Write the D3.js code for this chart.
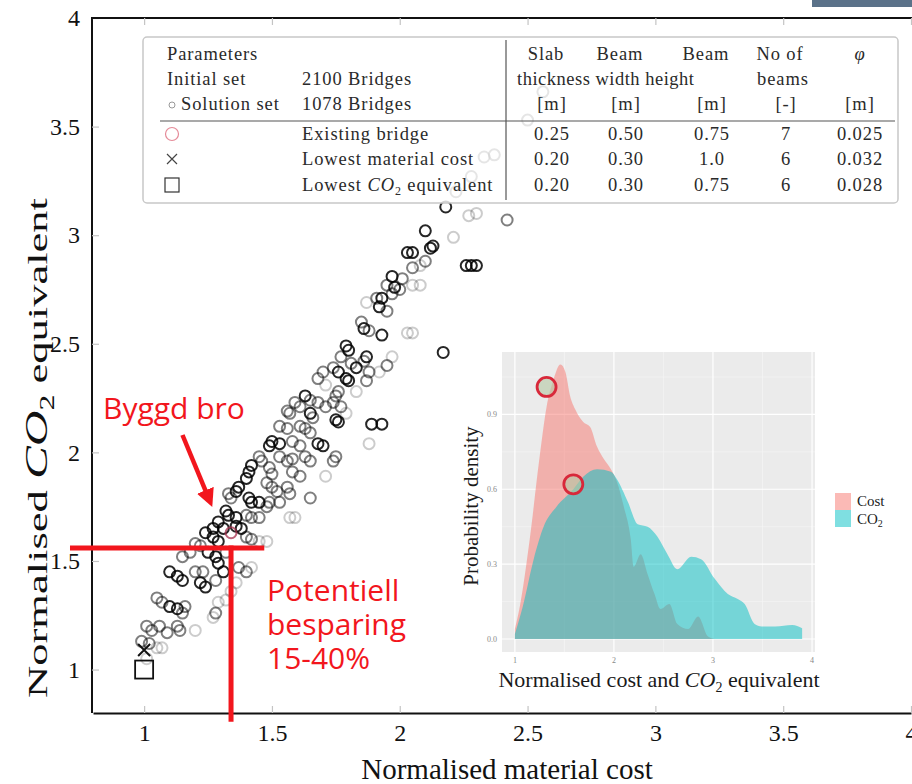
<!DOCTYPE html>
<html>
<head>
<meta charset="utf-8">
<script src="https://cdn.jsdelivr.net/npm/d3@7"></script>
<style>
body { margin: 0; background: #fff; }
text { font-family: "Liberation Serif", "DejaVu Serif", serif; }
.note { font-family: "Open Sans", "Noto Sans", sans-serif; fill: #f2161d; }
</style>
</head>
<body>
<div id="chart"></div>
<script>
// solution set (normalised material cost, normalised CO2), shade = darkness level of the marker
var solutionCost = [
    2.18,2.10,2.27,2.30,2.42,2.21,2.13,2.12,2.03,2.05,
    2.10,2.05,2.08,2.26,2.28,2.30,1.97,2.01,1.95,1.98,
    2.00,2.05,2.08,1.87,1.91,1.93,1.97,1.92,1.95,1.85,
    1.86,1.88,1.93,2.03,2.05,1.79,1.80,1.77,1.87,1.86,
    1.81,1.83,1.74,1.76,1.97,1.95,1.92,2.17,1.70,1.68,
    1.71,1.79,1.80,1.88,1.87,1.76,1.75,1.63,1.65,1.59,
    1.61,1.68,1.71,1.74,1.77,1.79,1.83,1.56,1.57,1.65,
    1.66,1.75,1.76,1.89,1.93,1.88,1.53,1.56,1.61,1.63,
    1.65,1.50,1.49,1.53,1.58,1.61,1.68,1.70,1.75,1.74,
    1.45,1.46,1.53,1.56,1.58,1.63,1.65,1.42,1.41,1.49,
    1.50,1.58,1.61,1.71,1.40,1.37,1.36,1.48,1.50,1.52,
    1.56,1.57,1.65,1.33,1.34,1.41,1.42,1.45,1.48,1.49,
    1.53,1.32,1.33,1.36,1.40,1.42,1.45,1.29,1.31,1.27,
    1.36,1.38,1.57,1.59,1.24,1.27,1.29,1.40,1.42,1.45,
    1.48,1.20,1.22,1.18,1.15,1.25,1.28,1.32,1.10,1.13,
    1.15,1.20,1.23,1.29,1.31,1.37,1.40,1.42,1.22,1.24,
    1.28,1.36,1.34,1.05,1.07,1.10,1.13,1.15,1.16,1.29,
    1.32,1.28,1.01,1.03,1.06,1.09,1.13,1.14,1.20,1.27,
    0.99,1.02,1.05,1.07,1.01,
    2.50,2.56,2.33,2.37,2.28,2.22
];
var solutionCO2 = [
    3.13,3.02,3.09,3.10,3.07,2.99,2.95,2.94,2.92,2.92,
    2.88,2.85,2.86,2.86,2.86,2.86,2.81,2.80,2.77,2.76,
    2.75,2.77,2.77,2.69,2.71,2.71,2.73,2.67,2.65,2.60,
    2.57,2.56,2.54,2.55,2.55,2.49,2.47,2.44,2.44,2.42,
    2.41,2.39,2.39,2.37,2.44,2.40,2.37,2.46,2.37,2.34,
    2.31,2.34,2.33,2.37,2.33,2.28,2.26,2.26,2.24,2.23,
    2.21,2.23,2.21,2.23,2.21,2.18,2.28,2.19,2.18,2.18,
    2.16,2.15,2.14,2.13,2.13,2.04,2.12,2.11,2.12,2.11,
    2.09,2.05,2.03,2.04,2.05,2.03,2.04,2.03,1.98,1.96,
    1.98,1.96,1.98,1.96,1.97,1.98,1.96,1.94,1.91,1.93,
    1.90,1.91,1.89,1.89,1.88,1.84,1.82,1.86,1.84,1.82,
    1.84,1.81,1.79,1.81,1.79,1.79,1.77,1.77,1.75,1.77,
    1.77,1.73,1.71,1.70,1.71,1.70,1.70,1.68,1.65,1.65,
    1.66,1.65,1.70,1.70,1.63,1.61,1.59,1.61,1.60,1.59,
    1.59,1.58,1.57,1.54,1.52,1.54,1.52,1.54,1.45,1.43,
    1.41,1.45,1.45,1.49,1.45,1.47,1.45,1.47,1.40,1.38,
    1.41,1.40,1.36,1.33,1.31,1.29,1.28,1.26,1.29,1.31,
    1.32,1.26,1.20,1.18,1.20,1.17,1.20,1.18,1.18,1.24,
    1.13,1.12,1.10,1.10,1.05,
    3.53,3.66,3.36,3.37,3.27,3.20
];
var solutionShade = [
    3,3,1,1,2,1,3,3,3,3, 2,2,1,3,3,3,3,2,2,3, 2,1,1,1,2,3,2,3,2,2,
    3,2,3,1,1,3,3,2,3,2, 2,3,2,3,1,2,1,3,2,2, 1,3,3,2,2,2,2,3,2,2,
    2,2,2,2,2,1,1,2,2,3, 2,3,3,3,3,1,2,2,2,2, 2,3,3,3,2,2,3,3,2,2,
    2,2,2,2,2,2,2,3,3,2, 2,2,2,1,3,3,3,2,2,2, 2,2,2,2,2,3,3,3,2,2,
    2,3,3,3,2,2,2,3,3,3, 3,3,1,1,3,3,3,2,2,1, 1,2,2,2,2,3,3,2,3,3,
    3,2,2,3,3,2,2,1,3,3, 2,1,1,2,2,3,3,2,2,1, 1,2,2,2,2,2,2,2,1,1,
    2,2,1,1,1,
    2,2,2,2,2,2
];

var existingBridge = [1.34, 1.63];
var lowestCost = [1.00, 1.09];
var lowestCO2 = [1.00, 1.00];
var savingLine = {cost: 1.34, co2: 1.56};

var xTicks = [1, 1.5, 2, 2.5, 3, 3.5, 4];
var yTicks = [1, 1.5, 2, 2.5, 3, 3.5, 4];

// table in the legend box
var headRow1 = ["Slab", "Beam", "Beam", "No of", "φ"];
var unitRow = ["[m]", "[m]", "[m]", "[-]", "[m]"];
var caseLabels = ["Existing bridge", "Lowest material cost", "Lowest CO2 equivalent"];
var caseValues = [
    ["0.25", "0.50", "0.75", "7", "0.025"],
    ["0.20", "0.30", "1.0", "6", "0.032"],
    ["0.20", "0.30", "0.75", "6", "0.028"]
];

// inset: probability densities
var costDensX = [1.00,1.05,1.15,1.25,1.32,1.39,1.46,1.51,1.56,1.61,1.69,1.76,1.83,1.90,1.97,2.03,2.10,2.17,2.20,2.27,2.34,2.41,2.47,2.56,2.64,2.75,2.85,2.95,3.02];
var costDensY = [0.04,0.13,0.40,0.73,0.93,1.04,1.10,1.07,0.97,0.92,0.87,0.85,0.77,0.72,0.68,0.63,0.53,0.40,0.29,0.34,0.26,0.18,0.12,0.14,0.06,0.04,0.09,0.01,0.00];
var co2DensX = [1.00,1.08,1.19,1.29,1.42,1.59,1.69,1.83,1.97,2.03,2.14,2.24,2.34,2.44,2.54,2.64,2.78,2.88,3.02,3.15,3.25,3.32,3.42,3.49,3.63,3.80,3.90];
var co2DensY = [0.02,0.13,0.32,0.45,0.53,0.60,0.65,0.68,0.67,0.64,0.55,0.46,0.45,0.41,0.34,0.28,0.33,0.32,0.24,0.18,0.16,0.14,0.06,0.05,0.05,0.056,0.043];
var densMarks = [[1.32, 1.01], [1.59, 0.62]];
var insetXTicks = [1, 2, 3, 4];
var insetYTicks = [0, 0.3, 0.6, 0.9];
var insetXMinor = [1.5, 2.5, 3.5];
var insetYMinor = [0.15, 0.45, 0.75, 1.05];
var insetSeries = ["Cost", "CO2"];
var insetColors = ["#F8766D", "#00BFC4"];

var W = 912, H = 784;

var svg = d3.select("#chart").append("svg")
    .attr("width", W)
    .attr("height", H);

// screenshot leftover in the corner
svg.append("rect")
    .attr("x", 812).attr("y", 0).attr("width", 100).attr("height", 7)
    .attr("fill", "#5b7289");

var x = d3.scaleLinear().domain([0.8, 4]).range([93, 911]);
var y = d3.scaleLinear().domain([0.8, 4]).range([713, 18]);

// axes
var gx = svg.append("g")
    .attr("transform", "translate(0," + y(0.8) + ")")
    .call(d3.axisBottom(x).tickValues(xTicks).tickSizeInner(-7).tickSizeOuter(0).tickPadding(11).tickFormat(d3.format("~g")));
var gy = svg.append("g")
    .attr("transform", "translate(" + (x(0.8) - 1) + ",0)")
    .call(d3.axisLeft(y).tickValues(yTicks).tickSizeInner(-7).tickSizeOuter(0).tickPadding(12).tickFormat(d3.format("~g")));
var gt = svg.append("g")
    .attr("transform", "translate(0," + y(4) + ")")
    .call(d3.axisTop(x).tickValues(xTicks).tickSizeInner(-7).tickSizeOuter(0).tickFormat(""));

[gx, gy, gt].forEach(function(g) {
    g.select(".domain").attr("stroke", "#111").attr("stroke-width", 2);
    g.selectAll(".tick line").attr("stroke", "#c4c4c4").attr("stroke-width", 1.2);
    g.selectAll(".tick text")
        .attr("fill", "#111")
        .style("font-family", "'Liberation Serif', serif")
        .style("font-size", "24px");
});
gy.select(".domain").attr("d", "M0," + y(0.8) + "V" + (y(4) - 1));
gt.select(".domain").attr("d", "M" + (x(0.8) - 2) + ",0H" + W);

svg.append("text")
    .attr("x", 507).attr("y", 779)
    .attr("text-anchor", "middle")
    .style("font-size", "29px")
    .attr("fill", "#111")
    .text("Normalised material cost");

var yl = svg.append("text")
    .attr("transform", "translate(47,448) rotate(-90)")
    .attr("text-anchor", "middle")
    .attr("textLength", 500)
    .attr("lengthAdjust", "spacingAndGlyphs")
    .style("font-size", "28px")
    .attr("fill", "#111");
yl.append("tspan").text("Normalised ");
yl.append("tspan").style("font-style", "italic").style("font-size", "31px").text("CO");
yl.append("tspan").attr("dy", 7).style("font-size", "20px").text("2");
yl.append("tspan").attr("dy", -7).text(" equivalent");

// scatter of the solution set
var shadeOpacity = d3.scaleOrdinal().domain([1, 2, 3]).range([0.2, 0.5, 0.85]);

svg.append("g").selectAll("circle")
    .data(d3.range(solutionCost.length))
    .enter().append("circle")
    .attr("cx", function(i) { return x(solutionCost[i]); })
    .attr("cy", function(i) { return y(solutionCO2[i]); })
    .attr("r", 5.5)
    .attr("fill", "none")
    .attr("stroke", "#000")
    .attr("stroke-width", 2)
    .attr("stroke-opacity", function(i) { return shadeOpacity(solutionShade[i]); });

svg.append("circle")
    .attr("cx", x(existingBridge[0])).attr("cy", y(existingBridge[1]))
    .attr("r", 5.5).attr("fill", "none")
    .attr("stroke", "#a5304d").attr("stroke-width", 2).attr("stroke-opacity", 0.75);

// lowest cost (x) and lowest CO2 (square)
svg.append("path")
    .attr("transform", "translate(" + x(lowestCost[0]) + "," + y(lowestCost[1]) + ")")
    .attr("d", "M-6,-6L6,6M-6,6L6,-6")
    .attr("stroke", "#111").attr("stroke-width", 2);
svg.append("rect")
    .attr("x", x(lowestCO2[0]) - 9).attr("y", y(lowestCO2[1]) - 9)
    .attr("width", 18).attr("height", 18)
    .attr("fill", "none").attr("stroke", "#111").attr("stroke-width", 1.8);

// legend box with the parameter table
var tb = svg.append("g");
tb.append("rect")
    .attr("x", 143).attr("y", 37).attr("width", 755).attr("height", 166)
    .attr("rx", 4)
    .attr("fill", "#fff").attr("fill-opacity", 0.8)
    .attr("stroke", "#c8c8c8").attr("stroke-width", 1.5);
tb.append("line").attr("x1", 160).attr("x2", 895).attr("y1", 121).attr("y2", 121)
    .attr("stroke", "#555").attr("stroke-width", 1.2);
tb.append("line").attr("x1", 506).attr("x2", 506).attr("y1", 40).attr("y2", 200)
    .attr("stroke", "#555").attr("stroke-width", 1.2);

var colX = [552, 626, 712, 786, 860];
var rowY = [60, 85, 110, 140, 165, 191];

function cell(tx, ty, str, anchor) {
    return tb.append("text")
        .attr("x", tx).attr("y", ty)
        .attr("text-anchor", anchor || "start")
        .style("font-size", "18.5px")
        .style("letter-spacing", "0.9px")
        .attr("fill", "#2a2a2a")
        .text(str);
}

cell(167, rowY[0], "Parameters");
cell(167, rowY[1], "Initial set");
cell(302, rowY[1], "2100 Bridges");
cell(181, rowY[2], "Solution set");
cell(302, rowY[2], "1078 Bridges");
tb.append("circle").attr("cx", 172).attr("cy", rowY[2] - 5).attr("r", 3)
    .attr("fill", "none").attr("stroke", "#999").attr("stroke-width", 1);

headRow1.forEach(function(h, j) {
    var t = cell(colX[j] - (j < 4 ? 6 : 0), rowY[0], h, "middle");
    if (h == "φ") t.style("font-style", "italic");
});
cell(517, rowY[1], "thickness width height").style("letter-spacing", "0.5px");
cell(colX[3] - 3, rowY[1], "beams", "middle");
unitRow.forEach(function(u, j) { cell(colX[j], rowY[2], u, "middle"); });

caseLabels.forEach(function(lab, k) {
    if (lab.indexOf("CO2") >= 0) {
        var t = cell(302, rowY[3 + k], "Lowest ");
        t.append("tspan").style("font-style", "italic").text("CO");
        t.append("tspan").attr("dy", 4).style("font-size", "12px").text("2");
        t.append("tspan").attr("dy", -4).text(" equivalent");
    } else {
        cell(302, rowY[3 + k], lab);
    }
    caseValues[k].forEach(function(v, j) { cell(colX[j], rowY[3 + k], v, "middle"); });
});

tb.append("circle").attr("cx", 172).attr("cy", rowY[3] - 6).attr("r", 6.5)
    .attr("fill", "none").attr("stroke", "#e58a98").attr("stroke-width", 1.2);
tb.append("path").attr("transform", "translate(172," + (rowY[4] - 6) + ")")
    .attr("d", "M-5,-5L5,5M-5,5L5,-5").attr("stroke", "#444").attr("stroke-width", 1.2);
tb.append("rect").attr("x", 165).attr("y", rowY[5] - 13).attr("width", 14).attr("height", 14)
    .attr("fill", "none").attr("stroke", "#333").attr("stroke-width", 1.2);

// inset density plot
var ix = d3.scaleLinear().domain([0.87, 4.03]).range([502, 815]);
var iy = d3.scaleLinear().domain([-0.052, 1.15]).range([652, 352]);
var inset = svg.append("g");

inset.append("rect")
    .attr("x", ix(0.87)).attr("y", iy(1.15))
    .attr("width", ix(4.03) - ix(0.87)).attr("height", iy(-0.052) - iy(1.15))
    .attr("fill", "#EBEBEB");

inset.selectAll(".vminor").data(insetXMinor).enter().append("line")
    .attr("x1", ix).attr("x2", ix).attr("y1", iy(1.15)).attr("y2", iy(-0.052))
    .attr("stroke", "#f6f6f6").attr("stroke-width", 0.6);
inset.selectAll(".hminor").data(insetYMinor).enter().append("line")
    .attr("y1", iy).attr("y2", iy).attr("x1", ix(0.87)).attr("x2", ix(4.03))
    .attr("stroke", "#f6f6f6").attr("stroke-width", 0.6);
inset.selectAll(".vmajor").data(insetXTicks).enter().append("line")
    .attr("x1", ix).attr("x2", ix).attr("y1", iy(1.15)).attr("y2", iy(-0.052))
    .attr("stroke", "#fff").attr("stroke-width", 1.2);
inset.selectAll(".hmajor").data(insetYTicks).enter().append("line")
    .attr("y1", iy).attr("y2", iy).attr("x1", ix(0.87)).attr("x2", ix(4.03))
    .attr("stroke", "#fff").attr("stroke-width", 1.2);

var area = d3.area()
    .x(function(d) { return ix(d[0]); })
    .y0(iy(0))
    .y1(function(d) { return iy(d[1]); })
    .curve(d3.curveMonotoneX);

var costPts = costDensX.map(function(v, i) { return [v, costDensY[i]]; });
var co2Pts = co2DensX.map(function(v, i) { return [v, co2DensY[i]]; });

inset.append("path").datum(costPts).attr("d", area)
    .attr("fill", insetColors[0]).attr("fill-opacity", 0.5);
inset.append("path").datum(co2Pts).attr("d", area)
    .attr("fill", insetColors[1]).attr("fill-opacity", 0.5);

inset.selectAll(".mark").data(densMarks).enter().append("circle")
    .attr("cx", function(d) { return ix(d[0]); })
    .attr("cy", function(d) { return iy(d[1]); })
    .attr("r", 9.5)
    .attr("fill", "#b4c8a4").attr("fill-opacity", 0.6)
    .attr("stroke", "#d8283a").attr("stroke-width", 2.8);

// inset ticks
inset.selectAll(".xt").data(insetXTicks).enter().append("text")
    .attr("x", ix).attr("y", iy(-0.052) + 11)
    .attr("text-anchor", "middle")
    .style("font-size", "8px").attr("fill", "#888")
    .text(function(d) { return d; });
inset.selectAll(".yt").data(insetYTicks).enter().append("text")
    .attr("x", ix(0.87) - 5).attr("y", function(d) { return iy(d) + 3; })
    .attr("text-anchor", "end")
    .style("font-size", "8px").attr("fill", "#888")
    .text(d3.format(".1f"));

var il = inset.append("text")
    .attr("x", 659).attr("y", 687)
    .attr("text-anchor", "middle")
    .style("font-size", "22px").attr("fill", "#1a1a1a");
il.append("tspan").text("Normalised cost and ");
il.append("tspan").style("font-style", "italic").text("CO");
il.append("tspan").attr("dy", 5).style("font-size", "14px").text("2");
il.append("tspan").attr("dy", -5).text(" equivalent");

inset.append("text")
    .attr("transform", "translate(478,506) rotate(-90)")
    .attr("text-anchor", "middle")
    .style("font-size", "21px").attr("fill", "#1a1a1a")
    .text("Probability density");

// inset legend
insetSeries.forEach(function(s, k) {
    inset.append("rect")
        .attr("x", 835).attr("y", 493 + k * 17).attr("width", 16).attr("height", 17)
        .attr("fill", insetColors[k]).attr("fill-opacity", 0.5);
    var t = inset.append("text")
        .attr("x", 857).attr("y", 506 + k * 18)
        .style("font-size", "15px").attr("fill", "#222");
    if (s == "CO2") {
        t.append("tspan").text("CO");
        t.append("tspan").attr("dy", 3).style("font-size", "10px").text("2");
    } else {
        t.text(s);
    }
});

// red annotations
var red = "#f2161d";
svg.append("line")
    .attr("x1", x(0.71)).attr("x2", x(1.47))
    .attr("y1", y(savingLine.co2)).attr("y2", y(savingLine.co2))
    .attr("stroke", red).attr("stroke-width", 5);
svg.append("line")
    .attr("x1", x(savingLine.cost)).attr("x2", x(savingLine.cost))
    .attr("y1", y(savingLine.co2) - 2.5).attr("y2", y(0.76))
    .attr("stroke", red).attr("stroke-width", 5);

svg.append("defs").append("marker")
    .attr("id", "head")
    .attr("viewBox", "0 0 10 10")
    .attr("refX", 2).attr("refY", 5)
    .attr("markerWidth", 4).attr("markerHeight", 4)
    .attr("orient", "auto")
    .append("path").attr("d", "M0,0L10,5L0,10z").attr("fill", red);

svg.append("line")
    .attr("x1", x(1.15)).attr("y1", y(2.08))
    .attr("x2", x(1.245)).attr("y2", y(1.81))
    .attr("stroke", red).attr("stroke-width", 4.5)
    .attr("marker-end", "url(#head)");

svg.append("text").attr("class", "note")
    .attr("x", 103).attr("y", 419)
    .style("font-size", "30px")
    .text("Byggd bro");
["Potentiell", "besparing", "15-40%"].forEach(function(s, k) {
    svg.append("text").attr("class", "note")
        .attr("x", 267).attr("y", 601 + k * 34)
        .style("font-size", "30px")
        .text(s);
});
</script>
</body>
</html>
